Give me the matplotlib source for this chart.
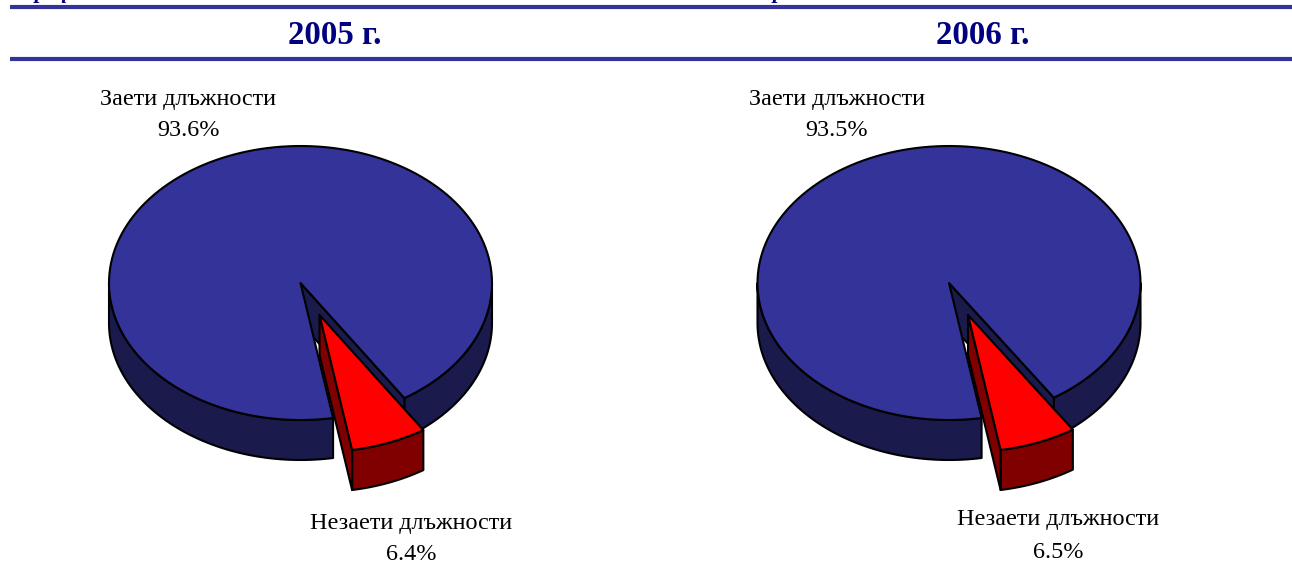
"""
Two exploded 3D-style pies: occupied vs vacant posts, 2005 and 2006.
"""

import numpy as np
import matplotlib
matplotlib.use("Agg")
import matplotlib.pyplot as plt
from matplotlib.patches import Polygon

YEARS = ["2005 г.", "2006 г."]
CATEGORIES = ["Заети длъжности", "Незаети длъжности"]
OCCUPIED = [93.6, 93.5]
VACANT = [6.4, 6.5]
CLIPPED_TITLE = "Графика № 5: Съотношение на заети и незаети длъжности към съда за периода"

NAVY = "#000080"
BLUE = "#333399"
BLUE_DARK = "#1a1a4d"
RED = "#ff0000"
RED_DARK = "#800000"

RX, RY = 191.5, 137.0
DEPTH = 40
START = 9.8  # degrees right of straight down, where the vacant slice starts
EXPLODE = (19, 32)

plt.rcParams["font.family"] = ["Liberation Serif", "DejaVu Serif"]


def arc(cx, cy, a0, a1, dy=0):
    # angles measured from straight down, going counter-clockwise on screen
    t = np.radians(np.linspace(a0, a1, 160))
    return np.column_stack([cx + RX * np.sin(t), cy + dy + RY * np.cos(t)])


def poly(ax, pts, color, z):
    ax.add_patch(Polygon(pts, closed=True, facecolor=color, edgecolor="black",
                         linewidth=1.5, joinstyle="round", zorder=z))


def draw_pie(ax, cx, cy, vacant):
    sweep = vacant / 100 * 360
    a0, a1 = START, START + sweep

    # main slice: side walls, cut face, then the top
    left = arc(cx, cy, 360 + a0, 270)
    poly(ax, np.vstack([left, arc(cx, cy, 270, 360 + a0, DEPTH)]), BLUE_DARK, 2)
    right = arc(cx, cy, a1, 90)
    poly(ax, np.vstack([right, arc(cx, cy, 90, a1, DEPTH)]), BLUE_DARK, 2)
    edge = arc(cx, cy, a1, a1)[0]
    poly(ax, [(cx, cy), edge, edge + (0, DEPTH), (cx, cy + DEPTH)], BLUE_DARK, 3)
    poly(ax, np.vstack([[(cx, cy)], arc(cx, cy, a1, 360 + a0)]), BLUE, 4)

    # vacant slice pulled out of the pie
    ox, oy = cx + EXPLODE[0], cy + EXPLODE[1]
    top = arc(ox, oy, a0, a1)
    poly(ax, np.vstack([top, arc(ox, oy, a1, a0, DEPTH)]), RED_DARK, 5)
    poly(ax, [(ox, oy), top[0], top[0] + (0, DEPTH), (ox, oy + DEPTH)], RED_DARK, 6)
    poly(ax, np.vstack([[(ox, oy)], top]), RED, 7)


def main():
    fig = plt.figure(figsize=(12.92, 5.83), dpi=100)
    ax = fig.add_axes([0, 0, 1, 1])
    ax.set_xlim(0, 1292)
    ax.set_ylim(583, 0)
    ax.axis("off")

    # the reference crops this heading at the top edge, only descenders show
    ax.text(22, -2, CLIPPED_TITLE, fontsize=16, fontweight="bold", style="italic",
            color=NAVY, ha="left", va="baseline")
    for y in (7, 59):
        ax.plot([10, 1292], [y, y], color=BLUE, linewidth=3, solid_capstyle="butt", zorder=10)

    centers = [300.5, 949]
    title_x = [335, 983]
    occ_x = [188, 837]
    vac_x = [411, 1058]
    vac_y = [[523, 555], [520, 552]]
    for i in range(2):
        ax.text(title_x[i], 36, YEARS[i], fontsize=23.7, fontweight="bold",
                color=NAVY, ha="center", va="center")
        draw_pie(ax, centers[i], 283, VACANT[i])
        ax.text(occ_x[i], 99, CATEGORIES[0], fontsize=17.4, ha="center", va="center")
        ax.text(occ_x[i], 131, f"{OCCUPIED[i]}%", fontsize=17.4, ha="center", va="center")
        ax.text(vac_x[i], vac_y[i][0], CATEGORIES[1], fontsize=17.4, ha="center", va="center")
        ax.text(vac_x[i], vac_y[i][1], f"{VACANT[i]}%", fontsize=17.4, ha="center", va="center")

    fig.savefig("out.png", dpi=100)


if __name__ == "__main__":
    main()
